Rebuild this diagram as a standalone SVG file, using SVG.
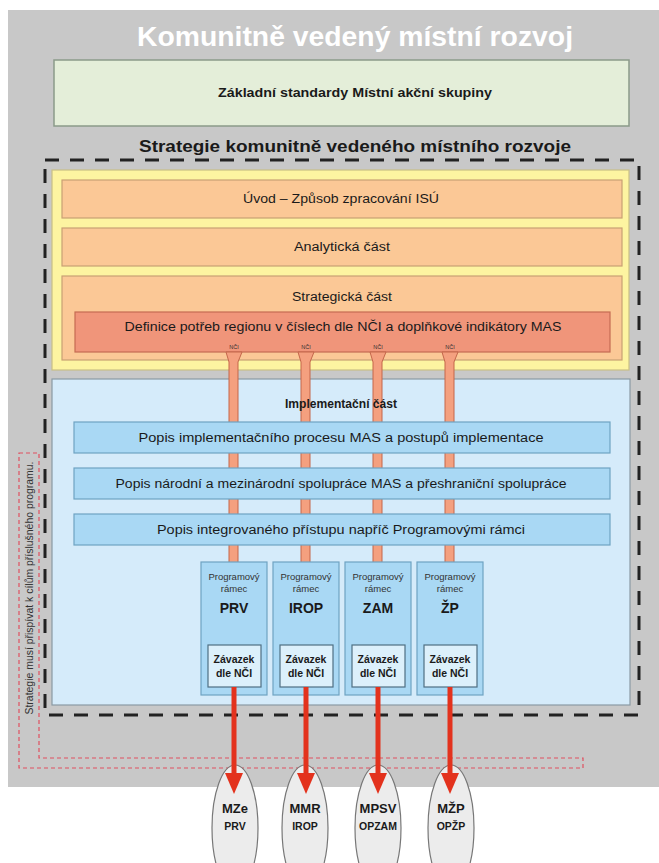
<svg xmlns="http://www.w3.org/2000/svg" width="659" height="863" viewBox="0 0 659 863">
<defs>
<style>
text{font-family:"Liberation Sans",Arial,sans-serif;fill:#1a1a1a;text-anchor:middle}
.b{font-weight:bold}
.orange{fill:#fbc896;stroke:#c9a074;stroke-width:1.2}
.bluebar{fill:#a9d8f4;stroke:#6fa3c2;stroke-width:1.2}
.prog{fill:#a9d8f4;stroke:#6fa3c2;stroke-width:1.2}
.zav{fill:#dcf0fb;stroke:#4f6f82;stroke-width:1.2}
.nci{fill:#f4a07f;stroke:#c4674b;stroke-width:1}
.arrow{stroke:#e3321d;stroke-width:5;fill:none}
.head{fill:#e3321d}
.ell{fill:#ececec;stroke:#777;stroke-width:1.2}
.pt{font-size:9.5px;fill:#333}
.pb{font-size:14px;font-weight:bold}
.zt{font-size:10.5px;font-weight:bold}
.et{font-size:13px;font-weight:bold}
.es{font-size:10.5px;font-weight:bold}
.ncl{font-size:5.5px;fill:#333}
</style>
</defs>

<rect x="8" y="10" width="651" height="777" fill="#c8c8c8"/>

<g id="title">
<text x="355" y="46" class="b" style="font-size:27px;fill:#ffffff" textLength="436" lengthAdjust="spacingAndGlyphs">Komunitně vedený místní rozvoj</text>
</g>

<g id="zakladni">
<rect x="54" y="60" width="575" height="66" fill="#e4eed9" stroke="#8b9a89" stroke-width="1.5"/>
<text x="355" y="97" class="b" style="font-size:12px" textLength="274" lengthAdjust="spacingAndGlyphs">Základní standardy Místní akční skupiny</text>
</g>

<g id="strategie">
<text x="355" y="152" class="b" style="font-size:17px" textLength="432" lengthAdjust="spacingAndGlyphs">Strategie komunitně vedeného místního rozvoje</text>
<rect x="45" y="160" width="594" height="555" fill="none" stroke="#222" stroke-width="3" stroke-dasharray="14,11"/>
</g>

<g id="yellow">
<rect x="52" y="170" width="577" height="200" fill="#fdf4a1" stroke="#c8bf86" stroke-width="1.2"/>
</g>

<g id="uvod">
<rect class="orange" x="62" y="180" width="560" height="38"/>
<text x="341" y="203" style="font-size:12.5px" textLength="196" lengthAdjust="spacingAndGlyphs">Úvod – Způsob zpracování ISÚ</text>
</g>

<g id="analyticka">
<rect class="orange" x="62" y="228" width="560" height="38"/>
<text x="342" y="251" style="font-size:12.5px" textLength="96" lengthAdjust="spacingAndGlyphs">Analytická část</text>
</g>

<g id="strategicka">
<rect class="orange" x="62" y="276" width="560" height="84"/>
<text x="342" y="301" style="font-size:12.5px" textLength="100" lengthAdjust="spacingAndGlyphs">Strategická část</text>
</g>

<g id="definice">
<rect x="75" y="312" width="535" height="40" fill="#f0957a" stroke="#c56c52" stroke-width="1.2"/>
<text x="343" y="331" style="font-size:12.5px" textLength="437" lengthAdjust="spacingAndGlyphs">Definice potřeb regionu v číslech dle NČI a doplňkové indikátory MAS</text>
</g>

<g id="implementacni">
<rect x="52" y="379" width="578" height="326" fill="#d5ebfa" stroke="#8a9aa4" stroke-width="1.2"/>
</g>

<g id="connectors">
<path class="nci" d="M226,352 L242,352 L238,362 L238,563 L229,563 L229,362 Z"/>
<path class="nci" d="M298,352 L314,352 L310,362 L310,563 L301,563 L301,362 Z"/>
<path class="nci" d="M370,352 L386,352 L382,362 L382,563 L373,563 L373,362 Z"/>
<path class="nci" d="M442,352 L458,352 L454,362 L454,563 L445,563 L445,362 Z"/>
<text class="ncl" x="234" y="349">NČI</text>
<text class="ncl" x="306" y="349">NČI</text>
<text class="ncl" x="378" y="349">NČI</text>
<text class="ncl" x="450" y="349">NČI</text>
</g>

<g id="impl-title">
<text x="341" y="408" class="b" style="font-size:12.5px" textLength="112" lengthAdjust="spacingAndGlyphs">Implementační část</text>
</g>

<g id="popis1">
<rect class="bluebar" x="74" y="422" width="536" height="31"/>
<text x="341" y="442" style="font-size:12.5px" textLength="405" lengthAdjust="spacingAndGlyphs">Popis implementačního procesu MAS a  postupů implementace</text>
</g>
<g id="popis2">
<rect class="bluebar" x="74" y="468" width="536" height="31"/>
<text x="341" y="488" style="font-size:12.5px" textLength="451" lengthAdjust="spacingAndGlyphs">Popis národní a mezinárodní spolupráce MAS a přeshraniční spolupráce</text>
</g>
<g id="popis3">
<rect class="bluebar" x="74" y="514" width="536" height="31"/>
<text x="341" y="534" style="font-size:12.5px" textLength="368" lengthAdjust="spacingAndGlyphs">Popis integrovaného přístupu napříč Programovými rámci</text>
</g>

<g id="prv">
<rect class="prog" x="201" y="562" width="66" height="133"/>
<text class="pt" x="234" y="580">Programový</text>
<text class="pt" x="234" y="592">rámec</text>
<text class="pb" x="234" y="613">PRV</text>
<rect class="zav" x="208" y="645" width="53" height="42"/>
<text class="zt" x="234" y="663">Závazek</text>
<text class="zt" x="234" y="677">dle NČI</text>
</g>
<g id="irop">
<rect class="prog" x="273" y="562" width="66" height="133"/>
<text class="pt" x="306" y="580">Programový</text>
<text class="pt" x="306" y="592">rámec</text>
<text class="pb" x="306" y="613">IROP</text>
<rect class="zav" x="280" y="645" width="53" height="42"/>
<text class="zt" x="306" y="663">Závazek</text>
<text class="zt" x="306" y="677">dle NČI</text>
</g>
<g id="zam">
<rect class="prog" x="345" y="562" width="66" height="133"/>
<text class="pt" x="378" y="580">Programový</text>
<text class="pt" x="378" y="592">rámec</text>
<text class="pb" x="378" y="613">ZAM</text>
<rect class="zav" x="352" y="645" width="53" height="42"/>
<text class="zt" x="378" y="663">Závazek</text>
<text class="zt" x="378" y="677">dle NČI</text>
</g>
<g id="zp">
<rect class="prog" x="417" y="562" width="66" height="133"/>
<text class="pt" x="450" y="580">Programový</text>
<text class="pt" x="450" y="592">rámec</text>
<text class="pb" x="450" y="613">ŽP</text>
<rect class="zav" x="424" y="645" width="53" height="42"/>
<text class="zt" x="450" y="663">Závazek</text>
<text class="zt" x="450" y="677">dle NČI</text>
</g>

<g id="prispivat">
<path d="M19,453 L39,453 L39,758 L583,758 L583,768 L19,768 Z" fill="none" stroke="#e05060" stroke-width="1.2" stroke-dasharray="4,3"/>
<text transform="translate(33,588) rotate(-90)" style="font-size:11px;fill:#333" textLength="253" lengthAdjust="spacingAndGlyphs">Strategie musí přispívat k cílům příslušného programu.</text>
</g>

<g id="mze">
<ellipse class="ell" cx="235" cy="828" rx="23" ry="63"/>
<text class="et" x="235" y="813">MZe</text>
<text class="es" x="235" y="830">PRV</text>
</g>
<g id="mmr">
<ellipse class="ell" cx="305" cy="828" rx="23" ry="63"/>
<text class="et" x="305" y="813">MMR</text>
<text class="es" x="305" y="830">IROP</text>
</g>
<g id="mpsv">
<ellipse class="ell" cx="378" cy="828" rx="23" ry="63"/>
<text class="et" x="378" y="813">MPSV</text>
<text class="es" x="378" y="830">OPZAM</text>
</g>
<g id="mzp">
<ellipse class="ell" cx="451" cy="828" rx="23" ry="63"/>
<text class="et" x="451" y="813">MŽP</text>
<text class="es" x="451" y="830">OPŽP</text>
</g>

<g id="arrows">
<line class="arrow" x1="234" y1="687" x2="234" y2="776"/>
<polygon class="head" points="225,773 243,773 234,794"/>
<line class="arrow" x1="306" y1="687" x2="306" y2="776"/>
<polygon class="head" points="297,773 315,773 306,794"/>
<line class="arrow" x1="378" y1="687" x2="378" y2="776"/>
<polygon class="head" points="369,773 387,773 378,794"/>
<line class="arrow" x1="450" y1="687" x2="450" y2="776"/>
<polygon class="head" points="441,773 459,773 450,794"/>
</g>
</svg>
